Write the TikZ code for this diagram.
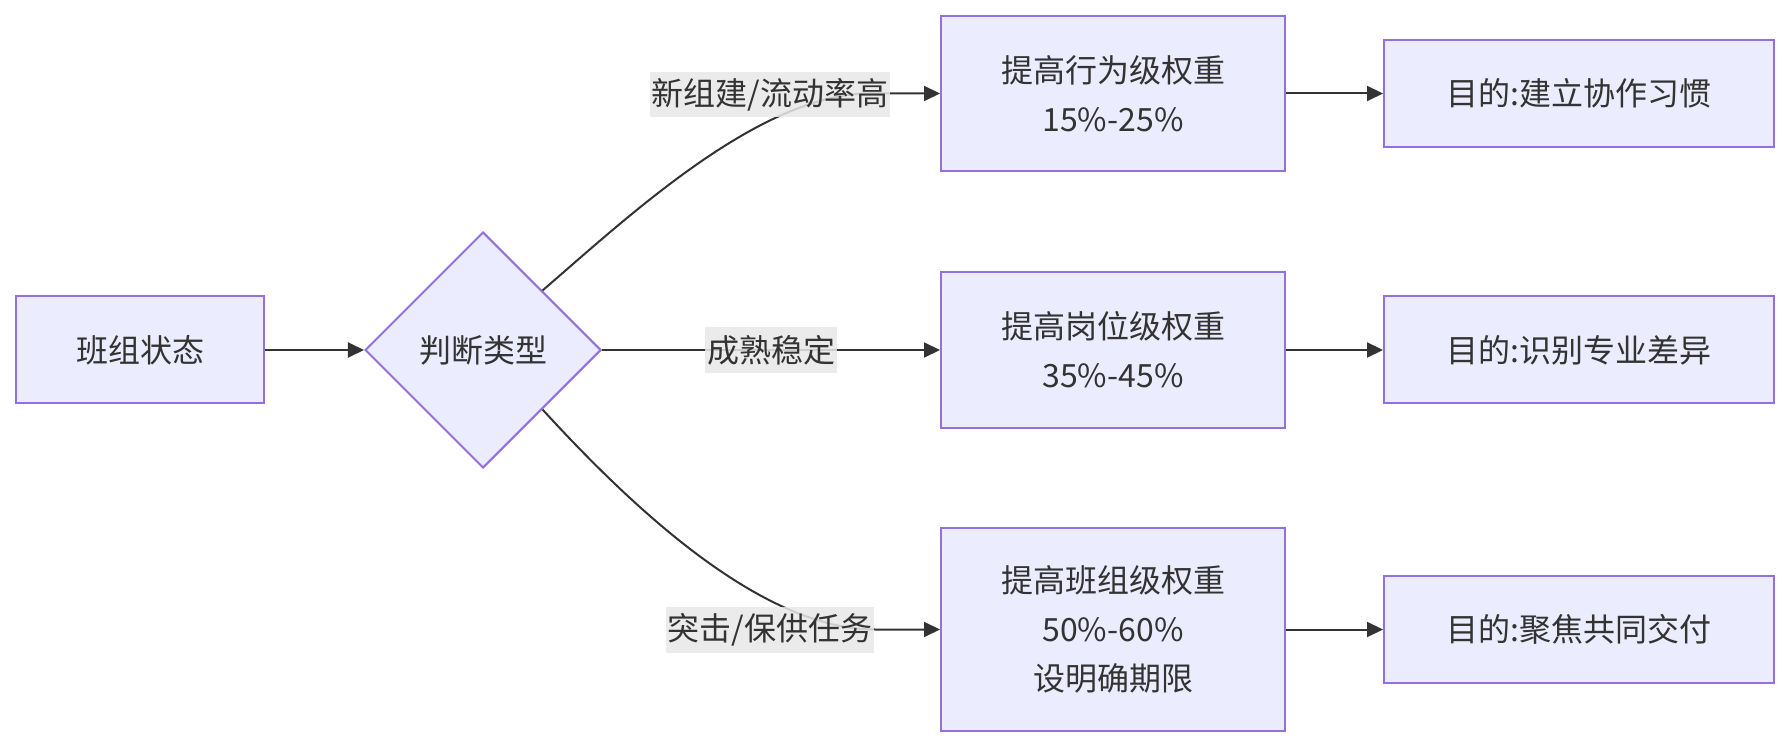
\documentclass[tikz,border=0pt]{standalone}
\usepackage{fontspec}
\setmainfont{Noto Sans CJK SC}
\usetikzlibrary{shapes.geometric,arrows.meta}
\definecolor{boxfill}{HTML}{ECECFF}
\definecolor{boxline}{HTML}{9370DB}
\definecolor{edgeline}{HTML}{333333}
\definecolor{lblfill}{HTML}{E8E8E8}

\begin{document}
\begin{tikzpicture}[x=0.5pt,y=-0.5pt,>={Triangle[length=8pt,width=7.5pt]}]
  \tikzstyle{box}=[draw=boxline,fill=boxfill,line width=1pt,text=edgeline,align=center,inner sep=0pt,font=\fontsize{16pt}{24.5pt}\selectfont]
  \tikzstyle{goal}=[box,minimum width=195pt,minimum height=53.5pt]
  \tikzstyle{elbl}=[fill=lblfill,fill opacity=0.85,text opacity=1,text=edgeline,inner xsep=1pt,inner ysep=0pt,minimum height=22.8pt,font=\fontsize{16pt}{20pt}\selectfont]
  \tikzstyle{conn}=[draw=edgeline,line width=1pt,->]
  \useasboundingbox[fill=white] (0,0) rectangle (1788,748);

  \node[box,minimum width=124pt,minimum height=53.5pt] (state) at (140,350) {班组状态};
  \node[box,diamond,minimum width=118pt,minimum height=118pt] (judge) at (483,350) {判断类型};

  \node[box,minimum width=172pt,minimum height=77.5pt] (beh) at (1113,93.5) {提高行为级权重\\15\%-25\%};
  \node[box,minimum width=172pt,minimum height=78pt] (post) at (1113,350) {提高岗位级权重\\35\%-45\%};
  \node[box,minimum width=172pt,minimum height=101.5pt] (team) at (1113,629.5) {提高班组级权重\\50\%-60\%\\设明确期限};

  \foreach \n/\y/\t in {gbeh/93.5/建立协作习惯,gpost/350/识别专业差异,gteam/629.5/聚焦共同交付} {
    \node[goal] (\n) at (1579,\y) {目的:\t};
  }

  \draw[conn] (state) -- (judge);
  \draw[conn] (judge.north east) .. controls (630,215) and (760,93.5) .. (870,93.5) -- (beh.west);
  \draw[conn] (judge) -- (post);
  \draw[conn] (judge.south east) .. controls (630,505) and (760,629.5) .. (875,629.5) -- (team.west);
  \foreach \a/\b in {beh/gbeh,post/gpost,team/gteam} {
    \draw[conn] (\a) -- (\b);
  }

  \node[elbl] (lnew) at (770,94.5) {新组建/流动率高};
  \node[elbl] (lmat) at (771,350) {成熟稳定};
  \node[elbl] (lrush) at (770,630) {突击/保供任务};
\end{tikzpicture}
\end{document}
